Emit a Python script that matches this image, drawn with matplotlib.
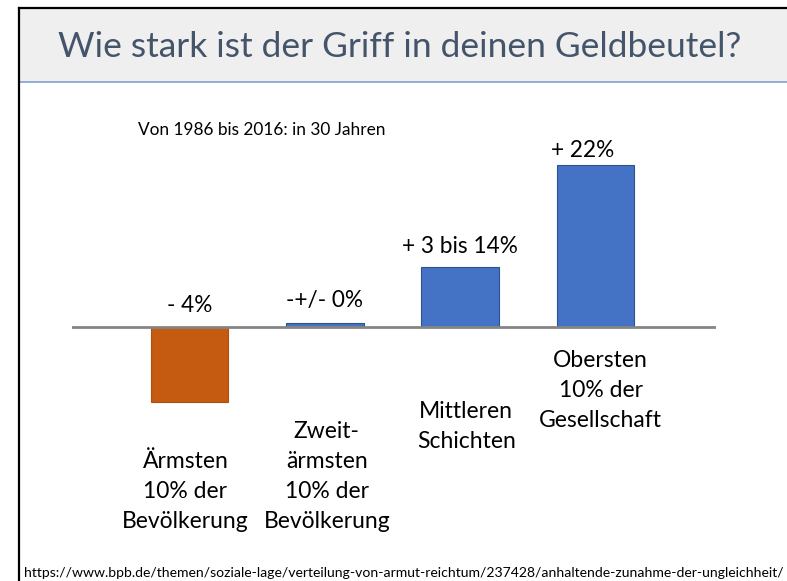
import matplotlib
matplotlib.use("Agg")
import matplotlib.pyplot as plt
from matplotlib.patches import Rectangle
from matplotlib.lines import Line2D

# ---- data ----
categories = ["Ärmsten\n10% der\nBevölkerung",
              "Zweit-\närmsten\n10% der\nBevölkerung",
              "Mittleren\nSchichten",
              "Obersten\n10% der\nGesellschaft"]
values = [-10.2, 0.6, 8.1, 22.0]          # bar heights as drawn
value_labels = ["- 4%", "-+/- 0%", "+ 3 bis 14%", "+ 22%"]
title = "Wie stark ist der Griff in deinen Geldbeutel?"
subtitle = "Von 1986 bis 2016: in 30 Jahren"
source = "https://www.bpb.de/themen/soziale-lage/verteilung-von-armut-reichtum/237428/anhaltende-zunahme-der-ungleichheit/"

# ---- styles / layout ----
bar_colors = ["#C55A11", "#4472C4", "#4472C4", "#4472C4"]
edge_colors = ["#AE4F0F", "#2F528F", "#2F528F", "#2F528F"]
FONT = "Lato"
W, H = 787, 581
DPI = 100

def fx(x):
    return x / W

def fy(y):
    return 1 - y / H

fig = plt.figure(figsize=(W / DPI, H / DPI), dpi=DPI)
fig.patch.set_facecolor("white")

# slide frame & header band
fig.add_artist(Rectangle((fx(19), fy(82)), 1 - fx(19), fy(8) - fy(82),
                         transform=fig.transFigure, facecolor="#EFEFEF",
                         edgecolor="none", zorder=0))
fig.add_artist(Line2D([fx(19), 1], [fy(82), fy(82)], transform=fig.transFigure,
                      color="#7F9FD5", lw=1.2))
fig.add_artist(Line2D([fx(19), 1], [fy(8), fy(8)], transform=fig.transFigure,
                      color="black", lw=1.6))
fig.add_artist(Line2D([fx(19), fx(19)], [fy(8), 0], transform=fig.transFigure,
                      color="black", lw=1.6))

fig.text(fx(400), fy(47), title, ha="center", va="center", fontsize=25.5,
         color="#44546A", family=FONT, fontweight="normal")

# chart axes (baseline from x=72 to 716 px, y=327 px)
ax_left, ax_right = 72, 716
ax_top, ax_bot = 100, 540
ax = fig.add_axes([fx(ax_left), fy(ax_bot), fx(ax_right) - fx(ax_left),
                   fy(ax_top) - fy(ax_bot)])
ax.set_xlim(-0.868, 3.89)
ppu = 162 / 22.0
ax.set_ylim(-(ax_bot - 327) / ppu, (327 - ax_top) / ppu)
ax.axis("off")

xs = list(range(len(values)))
ax.bar(xs, values, width=0.572, color=bar_colors, edgecolor=edge_colors,
       linewidth=0.8, zorder=2)
ax.axhline(0, color="#858585", lw=2.0, zorder=3)

# value labels
val_dx = [0, 0, 0, -13]
val_dy = [15, 16, 14, 8]
for i, (v, lab) in enumerate(zip(values, value_labels)):
    ax.annotate(lab, xy=(i, max(v, 0)), xytext=(val_dx[i], val_dy[i]),
                textcoords="offset pixels", ha="center", va="baseline",
                fontsize=16.3, family=FONT, color="black")

# category labels (first-line baseline in px, x offset in px)
cat_base = [468, 438, 418, 367]
cat_dx = [-4, 2, 6, 5]
line_gap = 30
for i, cat in enumerate(categories):
    for k, line in enumerate(cat.split("\n")):
        ax.annotate(line, xy=(i, 0), xycoords="data",
                    xytext=(cat_dx[i], -(cat_base[i] + k * line_gap - 327)),
                    textcoords="offset pixels", ha="center", va="baseline",
                    fontsize=16.5, family=FONT, color="black")

fig.text(fx(138), fy(130), subtitle, ha="left", va="center", fontsize=12.4,
         family=FONT, color="black")
fig.text(fx(24), fy(573), source, ha="left", va="center", fontsize=10.1,
         family=FONT, color="black")

fig.savefig("out.png", dpi=DPI, facecolor="white")
